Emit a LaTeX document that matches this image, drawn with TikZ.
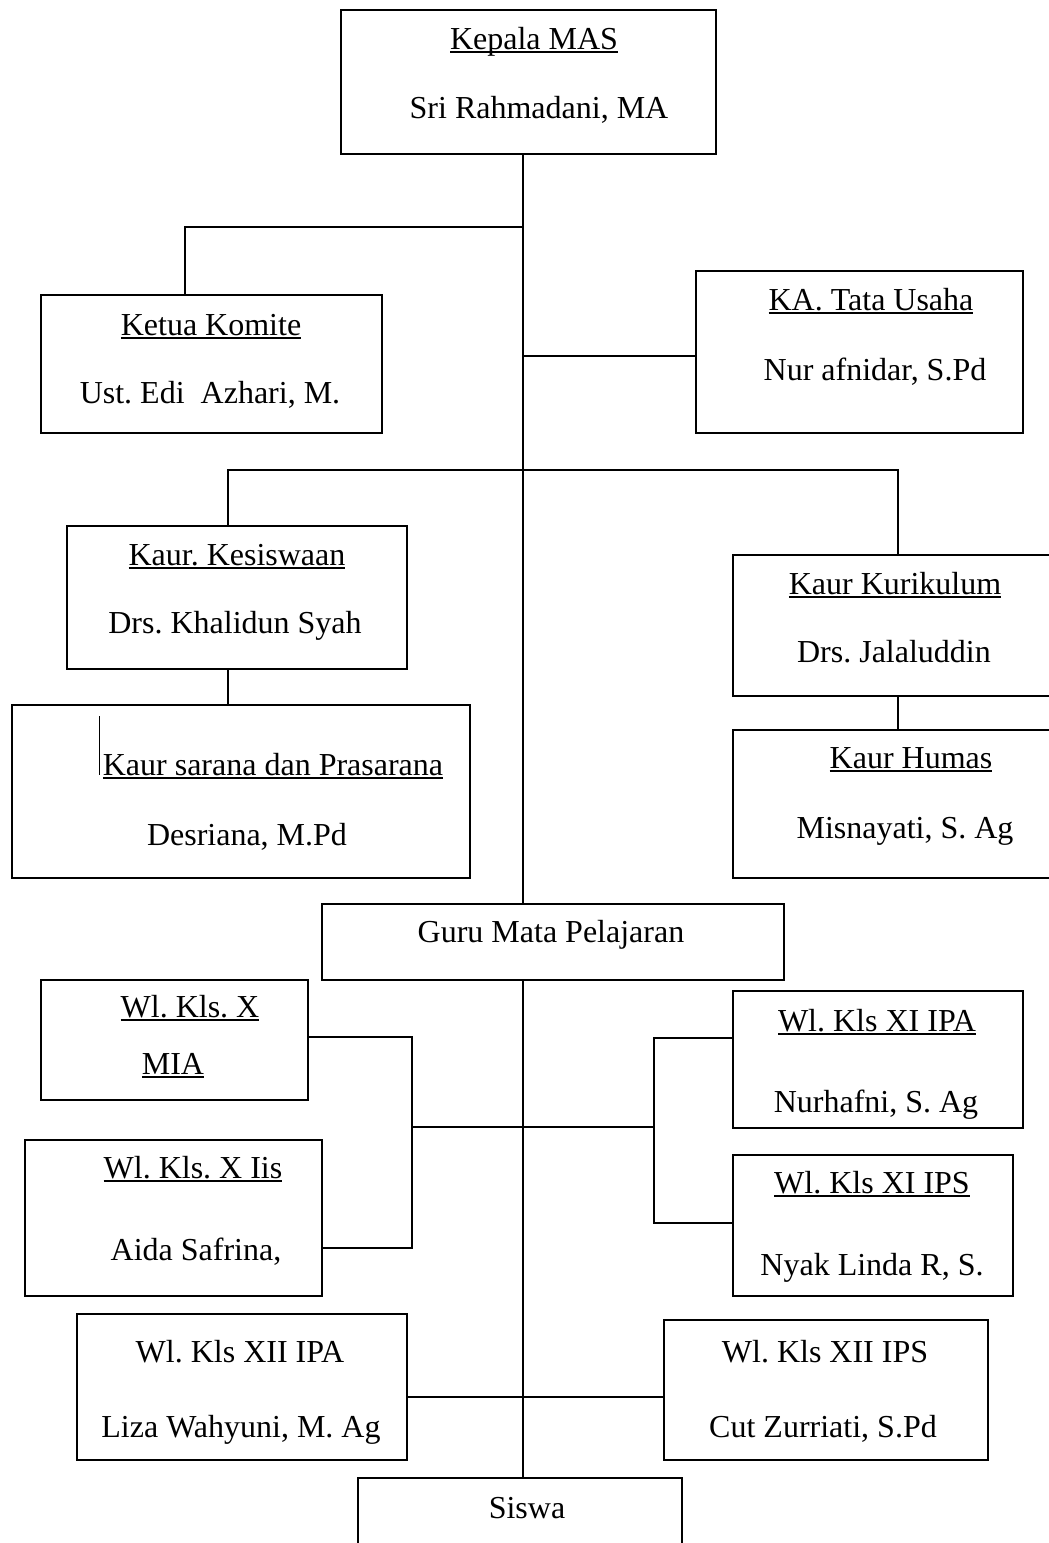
\documentclass[tikz,border=0pt]{standalone}
\usepackage{fontspec}
\setmainfont{Liberation Serif}
\frenchspacing
\newcommand\ulin[1]{\leavevmode\setbox0\hbox{#1}\rlap{\rule[-4pt]{\wd0}{1.7pt}}\box0}
\begin{document}
\begin{tikzpicture}[x=1pt,y=-1pt,
  orgbox/.style={draw, line width=1.7pt, inner sep=0pt, anchor=north west},
  lbl/.style={anchor=base, inner sep=0pt, font=\fontsize{32}{38}\selectfont\frenchspacing},
  conn/.style={line width=1.2pt}]
\useasboundingbox (0,0) rectangle (1049,1543);
\clip (0,0) rectangle (1049,1543);
% boxes
\node[orgbox, minimum width=375pt, minimum height=144pt] (kepala) at (340,9) {};
\node[orgbox, minimum width=341pt, minimum height=138pt] (komite) at (40,294) {};
\node[orgbox, minimum width=327pt, minimum height=162pt] (tu) at (695,270) {};
\node[orgbox, minimum width=340pt, minimum height=143pt] (kes) at (66,525) {};
\node[orgbox, minimum width=458pt, minimum height=173pt] (sar) at (11,704) {};
\node[orgbox, minimum width=340pt, minimum height=141pt] (kur) at (732,554) {};
\node[orgbox, minimum width=340pt, minimum height=148pt] (hum) at (732,729) {};
\node[orgbox, minimum width=462pt, minimum height=76pt] (guru) at (321,903) {};
\node[orgbox, minimum width=267pt, minimum height=120pt] (mia) at (40,979) {};
\node[orgbox, minimum width=297pt, minimum height=156pt] (iis) at (24,1139) {};
\node[orgbox, minimum width=290pt, minimum height=137pt] (xipa) at (732,990) {};
\node[orgbox, minimum width=280pt, minimum height=141pt] (xips) at (732,1154) {};
\node[orgbox, minimum width=330pt, minimum height=146pt] (xiia) at (76,1313) {};
\node[orgbox, minimum width=324pt, minimum height=140pt] (xiis) at (663,1319) {};
\node[orgbox, minimum width=324pt, minimum height=110pt] (siswa) at (357,1477) {};
% texts
\node[lbl] (t1a) at (534,49) {\ulin{Kepala MAS}};
\node[lbl] (t1b) at (539,118) {Sri Rahmadani, MA};
\node[lbl] (t2a) at (211,335) {\ulin{Ketua Komite}};
\node[lbl] (t2b) at (210,403) {Ust. Edi\ \ Azhari, M.};
\node[lbl] (t3a) at (871,310) {\ulin{KA. Tata Usaha}};
\node[lbl] (t3b) at (875,380) {Nur afnidar, S.Pd};
\node[lbl] (t4a) at (237,565) {\ulin{Kaur. Kesiswaan}};
\node[lbl] (t4b) at (235,633) {Drs. Khalidun Syah};
\node[lbl] (t5a) at (273,775) {\ulin{Kaur sarana dan Prasarana}};
\node[lbl] (t5b) at (247,845) {Desriana, M.Pd};
\node[lbl] (t6a) at (895,594) {\ulin{Kaur Kurikulum}};
\node[lbl] (t6b) at (894,662) {Drs. Jalaluddin};
\node[lbl] (t7a) at (911,768) {\ulin{Kaur Humas}};
\node[lbl] (t7b) at (905,838) {Misnayati, S. Ag};
\node[lbl] (t8) at (551,942) {Guru Mata Pelajaran};
\node[lbl] (t9a) at (190,1017) {\ulin{Wl. Kls. X}};
\node[lbl] (t9b) at (173,1074) {\ulin{MIA}};
\node[lbl] (t10a) at (193,1178) {\ulin{Wl. Kls. X Iis}};
\node[lbl] (t10b) at (196,1260) {Aida Safrina,};
\node[lbl] (t11a) at (877,1031) {\ulin{Wl. Kls XI IPA}};
\node[lbl] (t11b) at (876,1112) {Nurhafni, S. Ag};
\node[lbl] (t12a) at (872,1193) {\ulin{Wl. Kls XI IPS}};
\node[lbl] (t12b) at (872,1275) {Nyak Linda R, S.};
\node[lbl] (t13a) at (240,1362) {Wl. Kls XII IPA};
\node[lbl] (t13b) at (241,1437) {Liza Wahyuni, M. Ag};
\node[lbl] (t14a) at (825,1362) {Wl. Kls XII IPS};
\node[lbl] (t14b) at (823,1437) {Cut Zurriati, S.Pd};
\node[lbl] (t15) at (527,1518) {Siswa};
% junction coordinates
\coordinate (T) at (523,0);
\coordinate (jk) at (185,227);
\coordinate (ty) at (0,356);
\coordinate (jA) at (228,470);
\coordinate (jB) at (898,470);
\coordinate (lb1) at (412,1037);
\coordinate (lb2) at (412,1248);
\coordinate (lm) at (412,1127);
\coordinate (rb1) at (654,1038);
\coordinate (rb2) at (654,1223);
\coordinate (xy) at (0,1397);
\coordinate (cur1) at (99,716);
\coordinate (cur2) at (99,775);
% connectors
\draw[conn] (kepala.south -| T) -- (guru.north -| T);
\draw[conn] (jk -| T) -- (jk) -- (jk |- komite.north);
\draw[conn] (ty -| T) -- (ty -| tu.west);
\draw[conn] (jA |- kes.north) -- (jA) -- (jB) -- (jB |- kur.north);
\draw[conn] (jA |- kes.south) -- (jA |- sar.north);
\draw[conn] (jB |- kur.south) -- (jB |- hum.north);
\draw[conn] (guru.south -| T) -- (siswa.north -| T);
\draw[conn] (lb1 -| mia.east) -- (lb1) -- (lb2) -- (lb2 -| iis.east);
\draw[conn] (lm) -- (lm -| rb1);
\draw[conn] (rb1 -| xipa.west) -- (rb1) -- (rb2) -- (rb2 -| xips.west);
\draw[conn] (xy -| xiia.east) -- (xy -| xiis.west);
\draw[line width=0.8pt] (cur1) -- (cur2);
\end{tikzpicture}
\end{document}
